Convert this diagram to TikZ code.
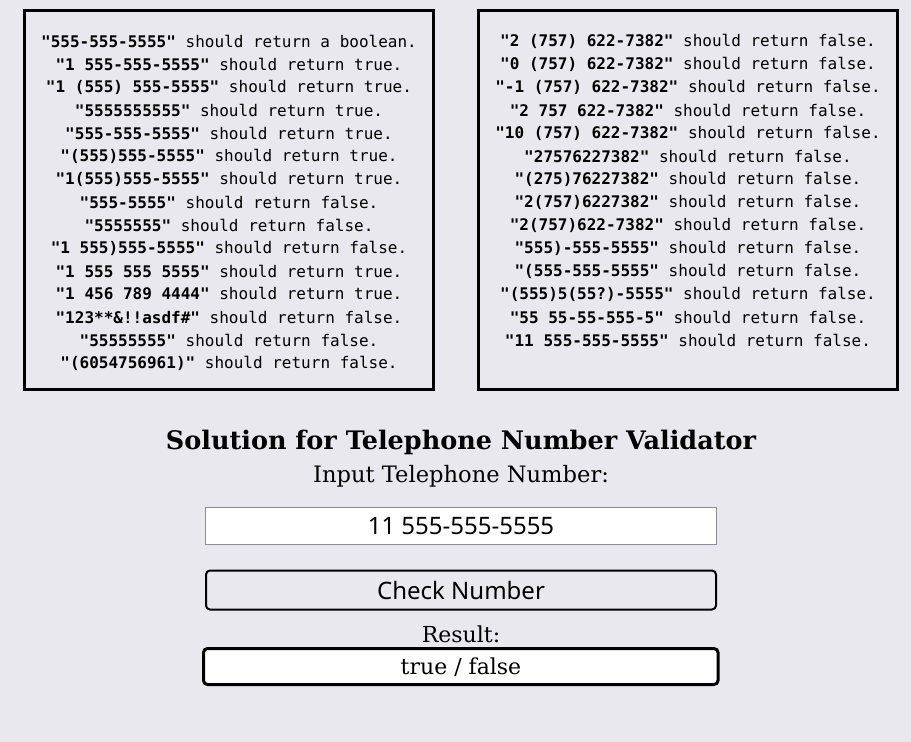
\documentclass[tikz,border=0pt]{standalone}
\usepackage{fontspec}
\setmainfont{DejaVu Serif}
\setsansfont{Noto Sans}
\setmonofont{DejaVu Sans Mono}
\definecolor{pagebg}{RGB}{232,232,238}
\definecolor{fieldline}{RGB}{140,140,155}
\newcommand{\qstr}[1]{\textbf{"#1"}}
\tikzset{
	testline/.style={font=\ttfamily\fontsize{16}{19}\selectfont, inner sep=0pt},
	testbox/.style={line width=3, draw=black},
	caption/.style={font=\fontsize{22}{26}\selectfont, inner sep=0pt},
	fieldtext/.style={font=\sffamily\fontsize{24}{28}\selectfont, inner sep=0pt}
}
\begin{document}
\begin{tikzpicture}[x=1pt,y=-1pt]
	\fill [pagebg] (0,0) rectangle (911,742);
	\useasboundingbox (0,0) rectangle (911,742);
	% test cases
	\draw [testbox] (24.5,10.5) rectangle (433,389.5);
	\draw [testbox] (478.5,10.5) rectangle (897.5,389.5);
	\foreach \s/\r [count=\i] in {{555-555-5555}/a boolean, {1 555-555-5555}/true, {1 (555) 555-5555}/true,
			{5555555555}/true, {555-555-5555}/true, {(555)555-5555}/true, {1(555)555-5555}/true,
			{555-5555}/false, {5555555}/false, {1 555)555-5555}/false, {1 555 555 5555}/true,
			{1 456 789 4444}/true, {123**\&!!asdf\#}/false, {55555555}/false, {(6054756961)}/false}
		\node [testline] (left\i) at (229,18+23*\i) {\qstr{\s} should return \r.};
	\foreach \s [count=\i] in {{2 (757) 622-7382}, {0 (757) 622-7382}, {-1 (757) 622-7382},
			{2 757 622-7382}, {10 (757) 622-7382}, {27576227382}, {(275)76227382}, {2(757)6227382},
			{2(757)622-7382}, {555)-555-5555}, {(555-555-5555}, {(555)5(55?)-5555}, {55 55-55-555-5},
			{11 555-555-5555}}
		\node [testline] (right\i) at (688,18+23*\i) {\qstr{\s} should return false.};
	% form
	\node [font=\bfseries\fontsize{25.5}{30}\selectfont, inner sep=0pt] (title) at (461,442) {Solution for Telephone Number Validator};
	\node [caption, font=\fontsize{22.6}{26}\selectfont] (inlabel) at (461,476) {Input Telephone Number:};
	\draw [fieldline, fill=white, line width=1] (205.5,507.5) rectangle (716.5,544.5);
	\node [fieldtext] (number) at (461,526) {11 555-555-5555};
	\draw [line width=2, rounded corners=4] (206,570.5) rectangle (716,609.5);
	\node [fieldtext] (check) at (461,590) {Check Number};
	\node [caption] (reslabel) at (461,634) {Result:};
	\draw [line width=3, fill=white, rounded corners=4] (203.5,648.5) rectangle (718,684.5);
	\node [caption] (result) at (461,667) {true / false};
\end{tikzpicture}
\end{document}
